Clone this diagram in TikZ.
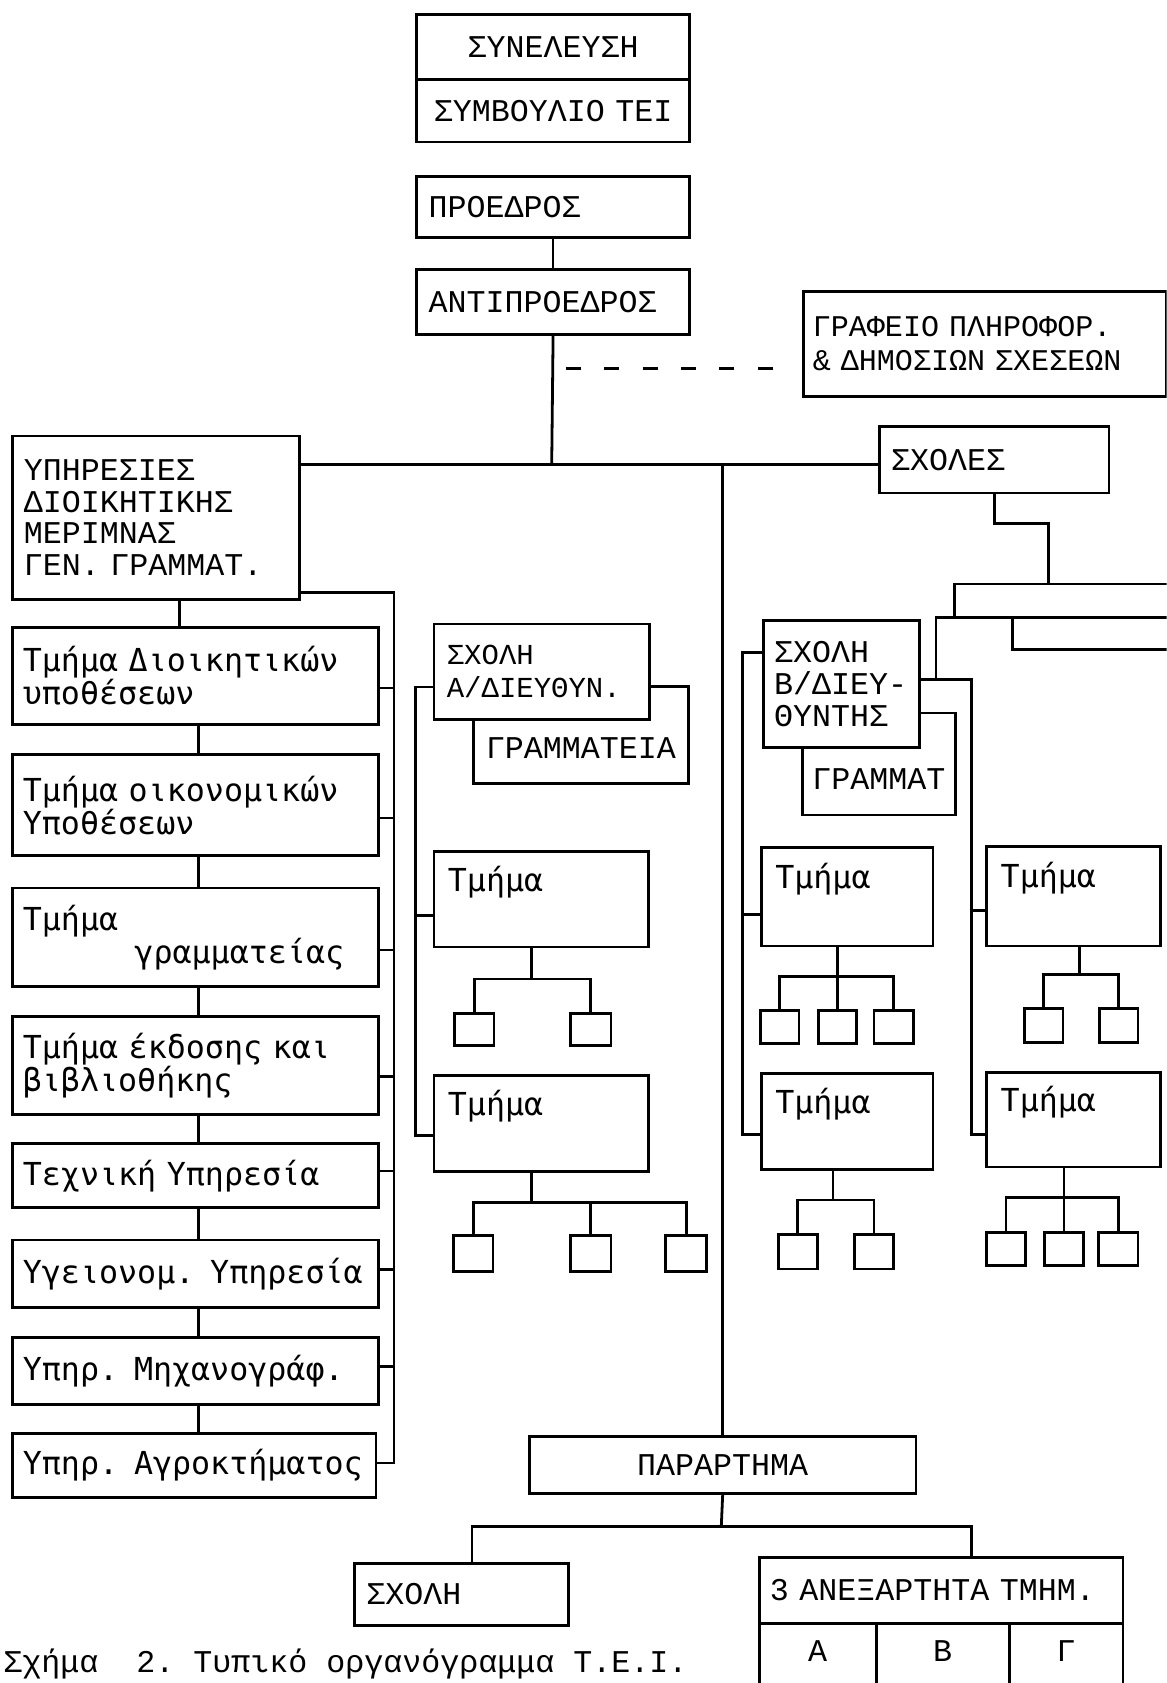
\documentclass[tikz,border=0pt]{standalone}
\usepackage{fontspec}
\newfontfamily\capsf{Liberation Mono}
\newfontfamily\lowf{DejaVu Sans Mono}
\tikzset{
  ln/.style={line width=2.6pt},
  box/.style={draw, line width=2.6pt, anchor=north west, inner xsep=11pt, inner ysep=0pt, align=left, font=\capsf\fontsize{29.5}{29.5}\selectfont},
  lbox/.style={box, inner xsep=10pt, font=\lowf\fontsize{29.5}{29.5}\selectfont},
  tmbox/.style={lbox, inner xsep=13pt, text height=10pt, text depth=25pt},
  sq/.style={draw, line width=2.6pt, anchor=north west, inner sep=0pt},
  dashln/.style={line width=2.6pt, dash pattern=on 14pt off 21.8pt},
}
\begin{document}
\begin{tikzpicture}[x=1pt, y=-1pt]
\useasboundingbox (0,0) rectangle (1087,1568);
\clip (0,0) rectangle (1087,1568);

% ---------- top ----------
\node[box, align=center, text width=232pt, minimum height=61pt] (syn) at (387,12) {ΣΥΝΕΛΕΥΣΗ};
\node[box, align=center, text width=232pt, minimum height=58pt] (symv) at (387,73) {ΣΥΜΒΟΥΛΙΟ ΤΕΙ};
\node[box, text width=232pt, minimum height=57pt] (pro) at (387,163) {ΠΡΟΕΔΡΟΣ};
\node[box, text width=232pt, minimum height=60pt] (anti) at (387,250) {ΑΝΤΙΠΡΟΕΔΡΟΣ};
\node[box, inner xsep=9pt, text width=320pt, minimum height=98pt, font=\capsf\fontsize{28}{32}\selectfont] (graf) at (747,270) {ΓΡΑΦΕΙΟ ΠΛΗΡΟΦΟΡ.\\\& ΔΗΜΟΣΙΩΝ ΣΧΕΣΕΩΝ};

\coordinate (hub) at (514,433);
\coordinate (d1) at (527,343);
\coordinate (d2) at (720,343);
\draw[ln] (pro.south) -- (anti.north);
\draw[ln] (anti.south) -- (hub);
\draw[dashln] (d1) -- (d2);

\node[box, text width=246pt, minimum height=152pt] (ypir) at (10,405) {ΥΠΗΡΕΣΙΕΣ\\ΔΙΟΙΚΗΤΙΚΗΣ\\ΜΕΡΙΜΝΑΣ\\ΓΕΝ. ΓΡΑΜΜΑΤ.};
\node[box, text width=192pt, minimum height=62pt] (sxoles) at (818,396) {ΣΧΟΛΕΣ};
\draw[ln] (ypir.east |- hub) -- (sxoles.west |- hub);

\node[box, align=center, text width=338pt, minimum height=53pt] (par) at (492,1337) {ΠΑΡΑΡΤΗΜΑ};
\draw[ln] (par.north) -- (par.north |- hub);

% ---------- left column ----------
\node[lbox, text width=321pt, minimum height=91pt] (l1) at (10,583) {Τμήμα Διοικητικών\\υποθέσεων};
\node[lbox, text width=321pt, minimum height=94pt] (l2) at (10,702) {Τμήμα οικονομικών\\Υποθέσεων};
\node[lbox, text width=321pt, minimum height=92pt] (l3) at (10,826) {Τμήμα\\\hspace*{104pt}γραμματείας};
\node[lbox, text width=321pt, minimum height=91pt] (l4) at (10,946) {Τμήμα έκδοσης και\\βιβλιοθήκης};
\node[lbox, text width=321pt, minimum height=60pt] (l5) at (10,1064) {Τεχνική Υπηρεσία};
\node[lbox, text width=321pt, minimum height=63pt] (l6) at (10,1154) {Υγειονομ. Υπηρεσία};
\node[lbox, text width=321pt, minimum height=62pt] (l7) at (10,1245) {Υπηρ. Μηχανογράφ.};
\node[lbox, text width=319pt, minimum height=60pt] (l8) at (10,1334) {Υπηρ. Αγροκτήματος};

\coordinate (cx1) at (167,0);
\coordinate (cx2) at (185,0);
\draw[ln] (ypir.south -| cx1) -- (l1.north -| cx1);
\draw[ln] (l1.south -| cx2) -- (l2.north -| cx2);
\draw[ln] (l2.south -| cx2) -- (l3.north -| cx2);
\draw[ln] (l3.south -| cx2) -- (l4.north -| cx2);
\draw[ln] (l4.south -| cx2) -- (l5.north -| cx2);
\draw[ln] (l5.south -| cx2) -- (l6.north -| cx2);
\draw[ln] (l6.south -| cx2) -- (l7.north -| cx2);
\draw[ln] (l7.south -| cx2) -- (l8.north -| cx2);

\coordinate (L0) at (367,552);
\coordinate (L1) at (367,641);
\coordinate (L2) at (367,762);
\coordinate (L3) at (367,885);
\coordinate (L4) at (367,1003);
\coordinate (L5) at (367,1091);
\coordinate (L6) at (367,1183);
\coordinate (L7) at (367,1273);
\coordinate (L8) at (367,1363);
\draw[ln] (ypir.east |- L0) -- (L0) -- (L8) -- (L8 -| l8.east);
\draw[ln] (L1) -- (L1 -| l1.east);
\draw[ln] (L2) -- (L2 -| l2.east);
\draw[ln] (L3) -- (L3 -| l3.east);
\draw[ln] (L4) -- (L4 -| l4.east);
\draw[ln] (L5) -- (L5 -| l5.east);
\draw[ln] (L6) -- (L6 -| l6.east);
\draw[ln] (L7) -- (L7 -| l7.east);

% ---------- school A ----------
\node[box, align=center, text width=178pt, minimum height=91pt, text height=44pt, text depth=0pt] (gramA) at (440,638) {ΓΡΑΜΜΑΤΕΙΑ};
\node[box, fill=white, inner xsep=12pt, text width=177pt, minimum height=89pt, font=\capsf\fontsize{27}{31}\selectfont] (sxA) at (403,580) {ΣΧΟΛΗ\\Α/ΔΙΕΥΘΥΝ.};
\node[tmbox, text width=174pt, minimum height=89pt] (tmA1) at (403,792) {Τμήμα};
\node[tmbox, text width=174pt, minimum height=89pt] (tmA2) at (403,1001) {Τμήμα};

\coordinate (A0) at (387,640);
\coordinate (A1) at (387,853);
\coordinate (A2) at (387,1058);
\draw[ln] (A0 -| sxA.west) -- (A0) -- (A2) -- (A2 -| tmA2.west);
\draw[ln] (A1) -- (A1 -| tmA1.west);

\node[sq, minimum width=37pt, minimum height=30pt] (a11) at (422,943) {};
\node[sq, minimum width=38pt, minimum height=30pt] (a12) at (530,943) {};
\coordinate (ba1) at (495,912);
\draw[ln] (tmA1.south -| ba1) -- (ba1);
\draw[ln] (a11.north) |- (ba1) -| (a12.north);

\node[sq, minimum width=37pt, minimum height=33pt] (a21) at (421,1150) {};
\node[sq, minimum width=38pt, minimum height=33pt] (a22) at (530,1150) {};
\node[sq, minimum width=38pt, minimum height=33pt] (a23) at (619,1150) {};
\coordinate (ba2) at (495,1120);
\draw[ln] (tmA2.south -| ba2) -- (ba2);
\draw[ln] (a21.north) |- (ba2) -| (a23.north);
\draw[ln] (a22.north) -- (a22.north |- ba2);

% ---------- school B ----------
\node[box, align=center, inner xsep=9pt, text width=125pt, minimum height=95pt, text height=48pt, text depth=0pt] (gramB) at (746,663) {ΓΡΑΜΜΑΤ};
\node[box, fill=white, inner xsep=10pt, text width=125pt, minimum height=118pt] (sxB) at (710,577) {ΣΧΟΛΗ\\Β/ΔΙΕΥ-\\ΘΥΝΤΗΣ};
\node[tmbox, text width=134pt, minimum height=92pt] (tmB1) at (708,788) {Τμήμα};
\node[tmbox, text width=134pt, minimum height=89pt] (tmB2) at (708,999) {Τμήμα};

\coordinate (B0) at (692,608);
\coordinate (B1) at (692,852);
\coordinate (B2) at (692,1057);
\draw[ln] (B0 -| sxB.west) -- (B0) -- (B2) -- (B2 -| tmB2.west);
\draw[ln] (B1) -- (B1 -| tmB1.west);

\node[sq, minimum width=36pt, minimum height=31pt] (b11) at (707,940) {};
\node[sq, minimum width=36pt, minimum height=31pt] (b12) at (761,940) {};
\node[sq, minimum width=37pt, minimum height=31pt] (b13) at (813,940) {};
\coordinate (bb1) at (779,910);
\draw[ln] (tmB1.south -| b12.north) -- (b12.north);
\draw[ln] (b11.north) |- (bb1) -| (b13.north);

\node[sq, minimum width=36pt, minimum height=32pt] (b21) at (724,1149) {};
\node[sq, minimum width=36pt, minimum height=32pt] (b22) at (795,1149) {};
\coordinate (bb2) at (776,1118);
\draw[ln] (tmB2.south -| bb2) -- (bb2);
\draw[ln] (b21.north) |- (bb2) -| (b22.north);

% ---------- school C (right) ----------
\node[tmbox, text width=136pt, minimum height=93pt] (tmC1) at (918,787) {Τμήμα};
\node[tmbox, text width=136pt, minimum height=88pt] (tmC2) at (918,998) {Τμήμα};

\coordinate (C0) at (905,633);
\coordinate (C1) at (905,848);
\coordinate (C2) at (905,1057);
\draw[ln] (C0 -| sxB.east) -- (C0) -- (C2) -- (C2 -| tmC2.west);
\draw[ln] (C1) -- (C1 -| tmC1.west);

\node[sq, minimum width=36pt, minimum height=32pt] (c11) at (953,938) {};
\node[sq, minimum width=36pt, minimum height=32pt] (c12) at (1023,938) {};
\coordinate (bc1) at (1006,908);
\draw[ln] (tmC1.south -| bc1) -- (bc1);
\draw[ln] (c11.north) |- (bc1) -| (c12.north);

\node[sq, minimum width=36pt, minimum height=31pt] (c21) at (918,1147) {};
\node[sq, minimum width=36pt, minimum height=31pt] (c22) at (972,1147) {};
\node[sq, minimum width=37pt, minimum height=31pt] (c23) at (1022,1147) {};
\coordinate (bc2) at (990,1116);
\draw[ln] (tmC2.south -| c22.north) -- (c22.north);
\draw[ln] (c21.north) |- (bc2) -| (c23.north);

% lines from ΣΧΟΛΕΣ to the schools
\coordinate (r1) at (977,488);
\coordinate (r2) at (977,544);
\coordinate (r3) at (1090,544);
\coordinate (r4) at (889,575);
\coordinate (r5) at (1090,575);
\coordinate (r6) at (872,633);
\coordinate (r7) at (943,575);
\coordinate (r8) at (1090,605);
\draw[ln] (sxoles.south) |- (r1) -- (r2);
\draw[ln] (r4) |- (r3);
\draw[ln] (r6) |- (r5);
\draw[ln] (r7) |- (r8);

% ---------- bottom ----------
\node[box, text width=177pt, minimum height=58pt] (sx) at (329,1455) {ΣΧΟΛΗ};
\node[box, inner xsep=10pt, text width=319pt, minimum height=61pt] (anex) at (706,1450) {3 ΑΝΕΞΑΡΤΗΤΑ ΤΜΗΜ.};
\node[box, align=center, inner xsep=0pt, text width=109pt, minimum height=62pt, text height=10pt, text depth=0pt] (cA) at (706,1511) {Α};
\node[box, align=center, inner xsep=0pt, text width=124pt, minimum height=62pt, text height=10pt, text depth=0pt] (cB) at (815,1511) {Β};
\node[box, align=center, inner xsep=0pt, text width=106pt, minimum height=62pt, text height=10pt, text depth=0pt] (cC) at (939,1511) {Γ};

\coordinate (pb) at (672,1422);
\draw[ln] (par.south) -- (pb);
\draw[ln] ([xshift=10pt]sx.north) |- (pb) -| ([xshift=28pt]anex.north);

\node[anchor=base west, inner sep=0pt, font=\capsf\fontsize{29.5}{29.5}\selectfont] (cap) at (3,1558) {Σχήμα\ \ 2.\ Τυπικό οργανόγραμμα Τ.Ε.Ι.};
\end{tikzpicture}
\end{document}
